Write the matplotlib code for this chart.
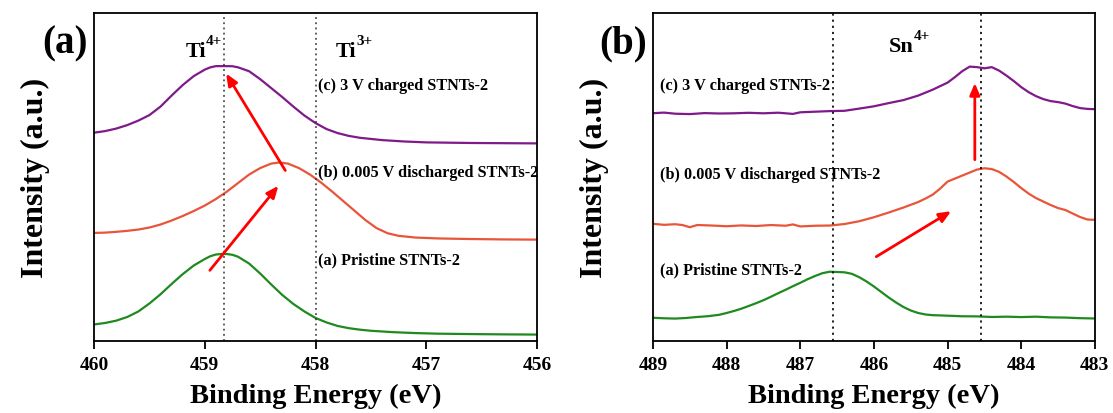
import matplotlib.pyplot as plt

plt.rcParams['font.family'] = 'Liberation Serif'
plt.rcParams['font.weight'] = 'bold'

# ---- panel (a): Ti 2p ----
ti_x_a = [460.0, 459.9, 459.8, 459.7, 459.6, 459.5, 459.4, 459.3, 459.2, 459.1,
          459.0, 458.95, 458.9, 458.85, 458.8, 458.75, 458.7, 458.6, 458.5, 458.4,
          458.3, 458.2, 458.1, 458.0, 457.9, 457.8, 457.7, 457.6, 457.5, 457.3,
          457.1, 456.9, 456.6, 456.3, 456.0]
ti_a = [16.5, 18.0, 20.3, 24.0, 29.5, 37.5, 46.7, 57.0, 66.8, 75.5,
        82.0, 84.8, 86.5, 87.0, 87.0, 86.2, 84.3, 77.5, 67.5, 56.5,
        46.0, 37.0, 29.5, 23.0, 18.5, 15.0, 12.8, 11.3, 10.2, 8.8,
        7.9, 7.3, 6.9, 6.6, 6.4]

ti_x_b = [460.0, 459.9, 459.8, 459.7, 459.6, 459.5, 459.4, 459.3, 459.2, 459.1,
          459.0, 458.9, 458.8, 458.7, 458.6, 458.5, 458.4, 458.33, 458.25, 458.15,
          458.05, 457.95, 457.85, 457.75, 457.65, 457.55, 457.45, 457.35, 457.25, 457.1,
          456.9, 456.6, 456.3, 456.0]
ti_b = [108.1, 108.4, 109.2, 110.2, 111.5, 113.5, 116.5, 120.5, 125.0, 130.0,
        135.5, 142.0, 149.5, 158.0, 166.5, 173.0, 177.5, 178.6, 177.5, 173.0,
        166.5, 158.5, 149.5, 140.0, 130.5, 121.0, 113.0, 107.8, 105.2, 103.5,
        102.6, 102.0, 101.6, 101.4]

ti_x_c = [460.0, 459.9, 459.8, 459.7, 459.6, 459.5, 459.4, 459.3, 459.2, 459.1,
          459.0, 458.95, 458.9, 458.8, 458.75, 458.7, 458.6, 458.5, 458.4, 458.3,
          458.2, 458.1, 458.0, 457.9, 457.8, 457.7, 457.6, 457.4, 457.2, 457.0,
          456.6, 456.0]
ti_c = [208.4, 210.0, 212.5, 216.0, 220.5, 226.0, 234.5, 245.5, 256.0, 265.0,
        271.5, 273.8, 275.0, 275.0, 274.9, 273.8, 269.9, 262.0, 253.0, 244.0,
        234.5, 225.5, 218.0, 212.0, 208.0, 205.2, 203.3, 201.0, 199.6, 198.7,
        198.1, 197.7]

# ---- panel (b): Sn 3d ----
sn_x_a = [489.0, 488.85, 488.7, 488.55, 488.4, 488.25, 488.1, 488.0, 487.9, 487.8,
          487.7, 487.6, 487.5, 487.4, 487.3, 487.2, 487.1, 487.0, 486.9, 486.8,
          486.7, 486.6, 486.5, 486.4, 486.3, 486.2, 486.1, 486.0, 485.9, 485.8,
          485.7, 485.6, 485.5, 485.4, 485.3, 485.2, 485.0, 484.8, 484.6, 484.4,
          484.2, 484.0, 483.8, 483.6, 483.4, 483.2, 483.0]
sn_a = [23.2, 22.7, 22.4, 23.0, 24.0, 24.8, 26.2, 28.0, 30.0, 32.3,
        35.0, 37.8, 40.8, 44.2, 47.8, 51.2, 54.8, 58.2, 61.8, 65.0,
        67.8, 69.3, 69.0, 68.7, 67.2, 63.8, 59.5, 54.5, 49.0, 43.5,
        38.5, 34.0, 30.5, 28.0, 26.5, 25.8, 25.3, 24.7, 24.6, 24.0,
        24.3, 23.9, 24.3, 23.6, 23.4, 22.8, 22.5]

sn_x_b = [489.0, 488.85, 488.7, 488.6, 488.5, 488.4, 488.2, 488.0, 487.8, 487.6,
          487.4, 487.2, 487.1, 487.0, 486.8, 486.6, 486.4, 486.2, 486.0, 485.8,
          485.6, 485.4, 485.3, 485.2, 485.1, 485.0, 484.9, 484.8, 484.7, 484.6,
          484.5, 484.4, 484.3, 484.2, 484.1, 484.0, 483.9, 483.8, 483.7, 483.6,
          483.5, 483.4, 483.3, 483.2, 483.1, 483.0]
sn_b = [117.2, 116.2, 116.8, 116.0, 113.8, 116.0, 115.5, 114.8, 115.6, 115.0,
        116.0, 115.3, 116.6, 114.6, 115.3, 115.5, 117.0, 119.8, 123.8, 128.5,
        133.5, 139.0, 142.5, 146.5, 152.5, 159.5, 162.5, 165.5, 168.5, 171.5,
        172.8, 172.0, 169.2, 164.5, 159.0, 153.0, 147.5, 143.0, 139.5, 136.0,
        133.0, 131.0, 127.5, 124.0, 121.5, 121.2]

sn_x_c = [489.0, 488.85, 488.7, 488.5, 488.3, 488.1, 487.9, 487.7, 487.5, 487.3,
          487.1, 487.0, 486.8, 486.6, 486.4, 486.2, 486.0, 485.8, 485.6, 485.4,
          485.2, 485.1, 485.0, 484.9, 484.8, 484.7, 484.6, 484.5, 484.4, 484.3,
          484.2, 484.1, 484.0, 483.9, 483.8, 483.7, 483.6, 483.5, 483.4, 483.3,
          483.2, 483.1, 483.0]
sn_c = [227.9, 228.5, 227.4, 227.0, 228.0, 227.6, 227.8, 228.3, 227.8, 228.4,
        227.2, 228.8, 229.4, 230.0, 230.3, 232.5, 234.8, 238.0, 241.0, 245.5,
        251.5, 255.0, 258.5, 264.0, 270.0, 274.5, 274.0, 272.8, 274.0, 270.5,
        265.5, 260.0, 254.0, 249.0, 245.0, 242.0, 240.0, 239.0, 237.5, 235.0,
        233.0, 232.2, 231.9]

labels = ['(a) Pristine STNTs-2', '(b) 0.005 V discharged STNTs-2', '(c) 3 V charged STNTs-2']
colors = ['#1f8a1f', '#e8553a', '#7f1a8a']

fig = plt.figure(figsize=(11.13, 4.14), dpi=100)
ax1 = fig.add_axes([0.0845, 0.174, 0.398, 0.793])
ax2 = fig.add_axes([0.5867, 0.174, 0.397, 0.793])

ax1.plot(ti_x_a, ti_a, color=colors[0], lw=1.6)
ax1.plot(ti_x_b, ti_b, color=colors[1], lw=1.6)
ax1.plot(ti_x_c, ti_c, color=colors[2], lw=1.6)
ax2.plot(sn_x_a, sn_a, color=colors[0], lw=1.6)
ax2.plot(sn_x_b, sn_b, color=colors[1], lw=1.6)
ax2.plot(sn_x_c, sn_c, color=colors[2], lw=1.6)

for v in [458.83, 458.0]:
    ax1.axvline(v, color='#333333', ls=(0, (1.2, 2.2)), lw=1.1)
for v in [486.55, 484.55]:
    ax2.axvline(v, color='#111111', ls=(0, (1.2, 2.2)), lw=1.3)

arrow = dict(arrowstyle='-|>,head_length=0.7,head_width=0.3', color='red', lw=2)
ax1.annotate('', xy=(458.32, 157.4), xytext=(458.97, 68.5), arrowprops=arrow)
ax1.annotate('', xy=(458.82, 269.9), xytext=(458.26, 168.2), arrowprops=arrow)
ax2.annotate('', xy=(484.92, 131.3), xytext=(486.0, 82.9), arrowprops=arrow)
ax2.annotate('', xy=(484.63, 260.8), xytext=(484.63, 178.6), arrowprops=arrow)

# ion labels: base text plus raised charge
ax1.text(458.99, 290, 'Ti', fontsize=16, ha='right', va='center')
ax1.text(458.99, 301, '4+', fontsize=11, ha='left', va='center')
ax1.text(457.63, 290, 'Ti', fontsize=16, ha='right', va='center')
ax1.text(457.63, 301, '3+', fontsize=11, ha='left', va='center')
ax2.text(485.46, 295, 'Sn', fontsize=16, ha='right', va='center')
ax2.text(485.46, 306, '4+', fontsize=11, ha='left', va='center')

for lab, y in zip(labels, [82, 169, 256.4]):
    ax1.text(457.98, y, lab, fontsize=11.7, ha='left', va='center')
for lab, y in zip(labels, [71.9, 167.5, 256.4]):
    ax2.text(488.9, y, lab, fontsize=11.7, ha='left', va='center')

ax1.set_xlim(460, 456)
ax2.set_xlim(489, 483)
ax1.set_xticks([460, 459, 458, 457, 456])
ax2.set_xticks([489, 488, 487, 486, 485, 484, 483])
for ax in (ax1, ax2):
    ax.set_ylim(0, 328.5)
    ax.set_yticks([])
    ax.tick_params(axis='x', direction='out', length=6, width=1.3, labelsize=14, pad=5)
    for s in ax.spines.values():
        s.set_linewidth(1.3)
    ax.set_xlabel('Binding Energy (eV)', fontsize=20.5, fontweight='bold', labelpad=7)
    ax.set_ylabel('Intensity (a.u.)', fontsize=23, fontweight='bold', labelpad=32)

fig.text(0.058, 0.895, '(a)', fontsize=28, fontweight='bold', ha='center', va='center')
fig.text(0.56, 0.895, '(b)', fontsize=28, fontweight='bold', ha='center', va='center')

fig.savefig('out.png', dpi=100)
